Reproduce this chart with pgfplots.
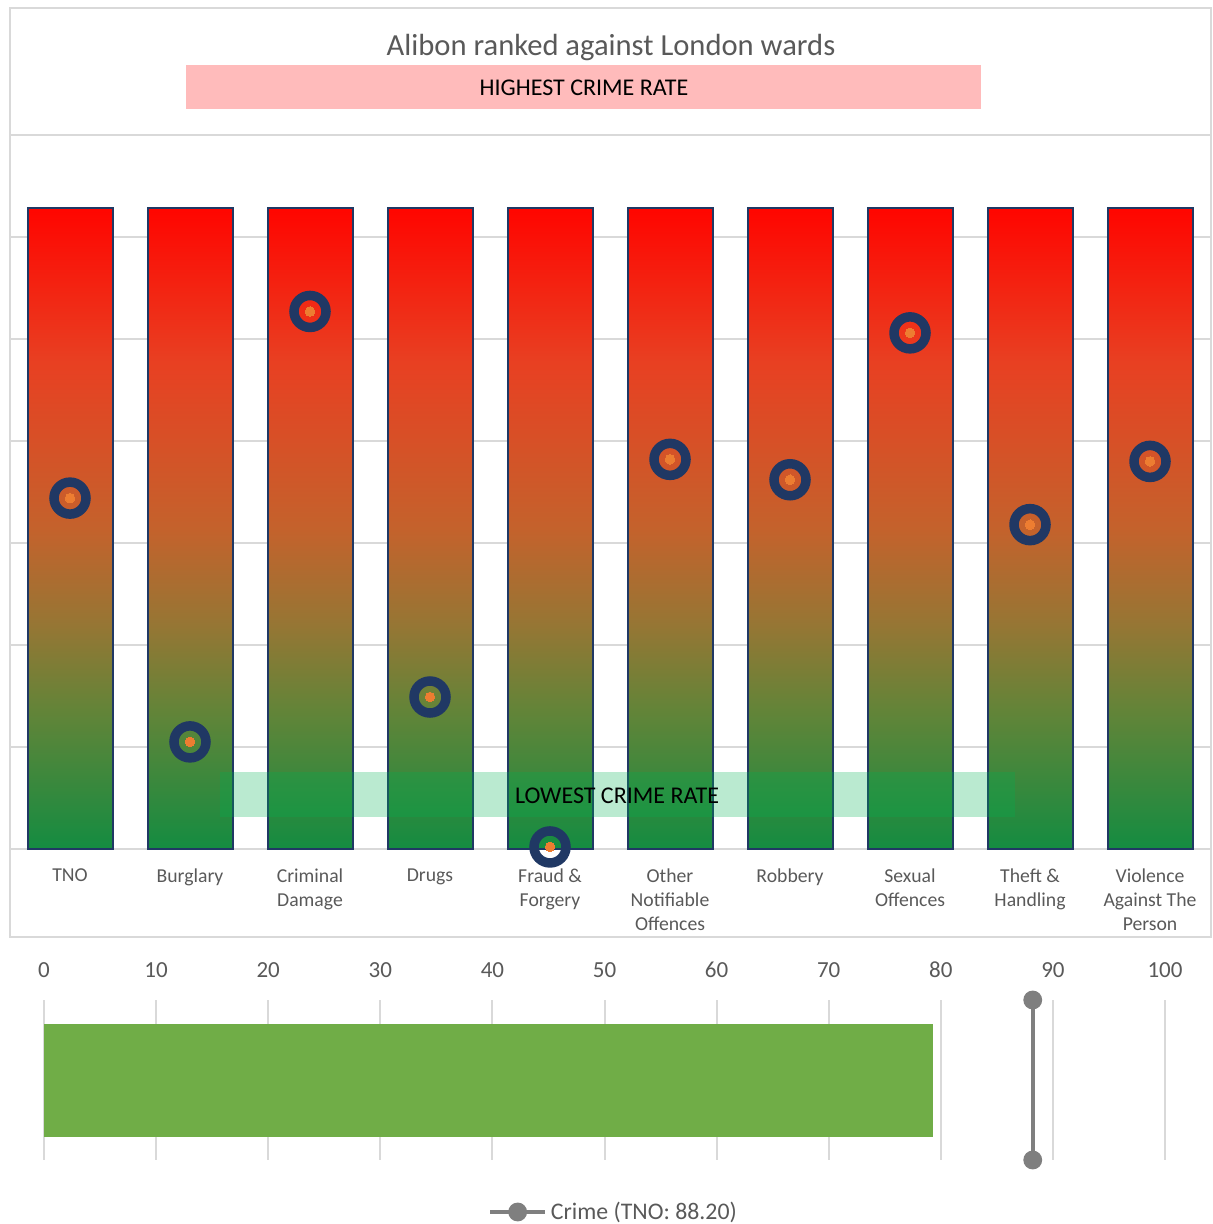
\documentclass[border=0pt]{standalone}
\usepackage{pgfplots}
\pgfplotsset{compat=1.18}
\usepackage{fontspec}
\setmainfont{Carlito}
\definecolor{txtgray}{HTML}{595959}
\definecolor{gridgray}{HTML}{D9D9D9}
\definecolor{navy}{HTML}{203864}
\definecolor{dotorange}{HTML}{ED7D31}
\definecolor{hipink}{HTML}{FFBBBB}
\definecolor{logreen}{HTML}{00B050}
\definecolor{crimegreen}{HTML}{70AD47}
\definecolor{linegray}{HTML}{7F7F7F}
\definecolor{sA}{RGB}{20,140,65}
\definecolor{sB}{RGB}{100,132,56}
\definecolor{sC}{RGB}{150,118,52}
\definecolor{sD}{RGB}{196,98,44}
\definecolor{sE}{RGB}{232,64,34}
\definecolor{sF}{RGB}{255,5,0}
\pgfdeclareverticalshading{crimebar}{100bp}{%
  color(0bp)=(sA);
  color(25bp)=(sA);
  color(36bp)=(sB);
  color(42.5bp)=(sC);
  color(50bp)=(sD);
  color(63bp)=(sE);
  color(75bp)=(sF);
  color(100bp)=(sF)}
\begin{document}
\begin{tikzpicture}
\useasboundingbox (0,0) rectangle (606pt,612pt);
% frame of upper panel
\draw[gridgray, line width=1pt] (5pt,143.5pt) rectangle (605.5pt,608pt);
% title
\node[text=txtgray, font=\fontsize{15.3}{18}\selectfont] at (305.5pt,588pt) {Alibon ranked against London wards};
\fill[hipink] (93pt,557.5pt) rectangle (490.5pt,579.5pt);
\node[text=black, font=\fontsize{12}{14}\selectfont] at (292pt,568pt) {HIGHEST CRIME RATE};

\begin{axis}[
  at={(5pt,187.5pt)}, anchor=south west,
  scale only axis, width=600pt, height=357pt,
  xmin=-0.5, xmax=9.5, ymin=0, ymax=7,
  axis line style={draw=none},
  major tick length=0pt,
  xtick={0,...,9},
  xticklabels={TNO, Burglary, {Criminal\\Damage}, Drugs, {Fraud \&\\Forgery}, {Other\\Notifiable\\Offences}, Robbery, {Sexual\\Offences}, {Theft \&\\Handling}, {Violence\\Against The\\Person}},
  xticklabel style={align=center, text=txtgray, font=\fontsize{9.85}{12}\selectfont, yshift=-6.5pt},
  ytick={0,...,7}, yticklabels={},
  ymajorgrids, grid style={gridgray, line width=1.2pt},
  clip=false,
]
\addplot[ybar, bar width=42.5pt, draw=navy, line width=1pt, shade, shading=crimebar]
  coordinates {(0,6.28) (1,6.28) (2,6.28) (3,6.28) (4,6.28) (5,6.28) (6,6.28) (7,6.28) (8,6.28) (9,6.28)};
\addplot[only marks, mark=o, mark size=8pt, draw=navy, line width=4.75pt]
  coordinates {(0,3.44) (1,1.05) (2,5.27) (3,1.49) (4,0.02) (5,3.82) (6,3.62) (7,5.06) (8,3.18) (9,3.80)};
\addplot[only marks, color=dotorange, mark=*, mark size=2.4pt, mark options={fill=dotorange, draw=dotorange, line width=0pt}]
  coordinates {(0,3.44) (1,1.05) (2,5.27) (3,1.49) (4,0.02) (5,3.82) (6,3.62) (7,5.06) (8,3.18) (9,3.80)};
\end{axis}

% lowest crime band (semi-transparent, over bars)
\fill[logreen, opacity=0.27] (110pt,203.5pt) rectangle (507.5pt,226pt);
\node[text=black, font=\fontsize{12}{14}\selectfont] at (308.5pt,214pt) {LOWEST CRIME RATE};

\begin{axis}[
  at={(22pt,32pt)}, anchor=south west,
  scale only axis, width=560.5pt, height=80pt,
  xmin=0, xmax=100, ymin=0, ymax=1,
  axis line style={draw=none},
  major tick length=0pt,
  xtick={0,10,...,100}, ytick=\empty,
  xticklabel pos=right,
  xticklabel style={text=txtgray, font=\fontsize{11.5}{14}\selectfont, yshift=7.5pt},
  /pgf/number format/assume math mode=true,
  xmajorgrids, grid style={gridgray, line width=1pt},
  clip=false,
  legend style={at={(0.509,-0.325)}, anchor=center, draw=none, fill=none,
    font=\fontsize{11.9}{14}\selectfont, text=txtgray},
  legend image code/.code={\draw[mark repeat=2, mark phase=2] plot coordinates {(0pt,0pt) (13.75pt,0pt) (27.5pt,0pt)};},
]
\addplot[xbar, bar width=56.5pt, fill=crimegreen, draw=none, forget plot]
  coordinates {(79.3,0.497)};
\addplot[color=linegray, line width=1.8pt, mark=*, mark size=3.8pt, mark options={fill=linegray}]
  coordinates {(88.2,0) (88.2,1)};
\addlegendentry{Crime (TNO: 88.20)}
\end{axis}
\end{tikzpicture}
\end{document}
